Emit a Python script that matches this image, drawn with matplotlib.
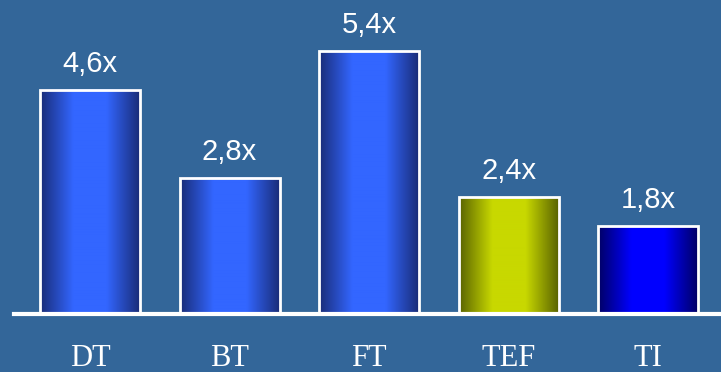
import numpy as np
import matplotlib.pyplot as plt
from matplotlib.colors import LinearSegmentedColormap
from matplotlib.patches import Rectangle

categories = ['DT', 'BT', 'FT', 'TEF', 'TI']
values = [4.6, 2.8, 5.4, 2.4, 1.8]
value_labels = ['4,6x', '2,8x', '5,4x', '2,4x', '1,8x']
# (edge colour, centre colour) for each bar's horizontal gradient
bar_shades = [('#1a2d78', '#3366ff'),
              ('#1a2d78', '#3366ff'),
              ('#1a2d78', '#3366ff'),
              ('#5a6400', '#c8d800'),
              ('#000066', '#0000ff')]

bg = '#336699'
fig = plt.figure(figsize=(7.21, 3.72), dpi=100, facecolor=bg)
ax = fig.add_axes([14/721, 58/372, 707/721, 314/372])
ax.set_facecolor(bg)

width = 100/139.6
for i, (v, (edge, mid)) in enumerate(zip(values, bar_shades)):
    cmap = LinearSegmentedColormap.from_list('g%d' % i, [edge, mid, mid, edge])
    prof = np.linspace(0, 1, 200)
    img = cmap(prof)[np.newaxis, :, :]
    x0 = i - width/2
    ax.imshow(img, extent=[x0, x0 + width, 0, v], aspect='auto',
              interpolation='bilinear', zorder=2)
    ax.add_patch(Rectangle((x0, 0), width, v, fill=False, edgecolor='white',
                           linewidth=2, zorder=3))
    ax.annotate(value_labels[i], (i, v), xytext=(0, 18), textcoords='offset pixels',
                ha='center', va='baseline', color='white', fontsize=21,
                family='Liberation Sans')
    ax.text(i, -52/48.7, categories[i], ha='center', va='baseline', color='white',
            fontsize=22, family='Liberation Serif', clip_on=False)

ax.set_xlim(-76/139.6, -76/139.6 + 707/139.6)
ax.set_ylim(0, 314/48.7)
for s in ['top', 'right', 'left']:
    ax.spines[s].set_visible(False)
ax.spines['bottom'].set_color('white')
ax.spines['bottom'].set_linewidth(3)
ax.spines['bottom'].set_zorder(4)
ax.set_xticks([])
ax.set_yticks([])

fig.savefig('out.png', dpi=100, facecolor=bg)
